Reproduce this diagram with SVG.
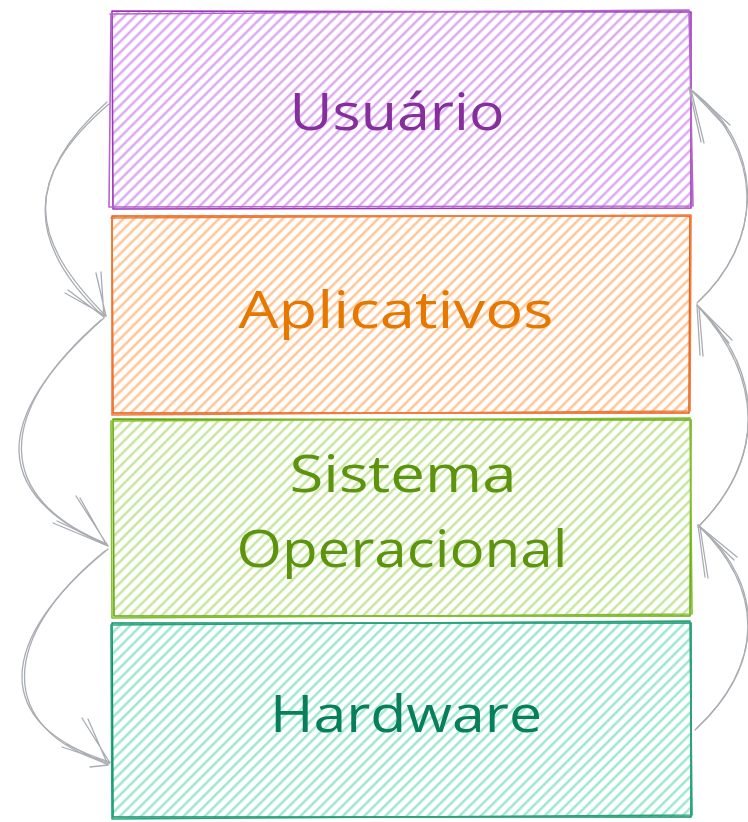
<svg xmlns="http://www.w3.org/2000/svg" width="748" height="822" viewBox="0 0 748 822">
<style>
.bd{fill:none;stroke-width:1.6;stroke-linecap:round;stroke-linejoin:round}
.lbl{font-family:"Open Sans","Liberation Sans",sans-serif;font-size:52px;font-weight:500;text-anchor:middle}
.ar{fill:none;stroke:#a9adb2;stroke-width:1.3;stroke-linecap:round;stroke-linejoin:round}
</style>
<defs>
<pattern id="hP" width="7.5" height="7.5" patternUnits="userSpaceOnUse" patternTransform="rotate(45)"><line x1="2" y1="0" x2="2" y2="7.5" stroke="#dcaaf0" stroke-width="2.5"/></pattern>
<pattern id="hO" width="7.5" height="7.5" patternUnits="userSpaceOnUse" patternTransform="rotate(45)"><line x1="2" y1="0" x2="2" y2="7.5" stroke="#ffc596" stroke-width="2.5"/></pattern>
<pattern id="hG" width="7.5" height="7.5" patternUnits="userSpaceOnUse" patternTransform="rotate(45)"><line x1="2" y1="0" x2="2" y2="7.5" stroke="#c6e6a0" stroke-width="2.5"/></pattern>
<pattern id="hT" width="7.5" height="7.5" patternUnits="userSpaceOnUse" patternTransform="rotate(45)"><line x1="2" y1="0" x2="2" y2="7.5" stroke="#9fe6cf" stroke-width="2.5"/></pattern>
</defs>
<rect width="748" height="822" fill="#ffffff"/>

<g id="usuario">
<rect x="112" y="11" width="579" height="197" fill="url(#hP)"/>
<path class="bd" stroke="#9c36b5" d="M112,11 L691,12 L691,208 L113,209 Z"/>
<path class="bd" stroke="#b565d0" stroke-width="1.1" d="M110,14 L689,10 L693,206 L109,207 L111,14"/>
<text class="lbl" x="397" y="130" fill="#862e9c" textLength="215" lengthAdjust="spacingAndGlyphs">Usuário</text>
</g>

<g id="aplicativos">
<rect x="112" y="216" width="578" height="197" fill="url(#hO)"/>
<path class="bd" stroke="#e8590c" d="M112,216 L690,216 L689,413 L113,413 Z"/>
<path class="bd" stroke="#f07d3c" stroke-width="1.1" d="M111,218 L691,215 L690,411 L112,415 L112,218"/>
<text class="lbl" x="396" y="328" fill="#e67700" textLength="315" lengthAdjust="spacingAndGlyphs">Aplicativos</text>
</g>

<g id="sistema-operacional">
<rect x="113" y="419" width="578" height="197" fill="url(#hG)"/>
<path class="bd" stroke="#66a80f" d="M113,419 L691,420 L690,616 L114,616 Z"/>
<path class="bd" stroke="#82c02a" stroke-width="1.1" d="M111,421 L690,418 L692,614 L112,618 L111,421"/>
<text class="lbl" fill="#5c940d"><tspan x="403" y="492" textLength="227" lengthAdjust="spacingAndGlyphs">Sistema</tspan><tspan x="402" y="567" textLength="331" lengthAdjust="spacingAndGlyphs">Operacional</tspan></text>
</g>

<g id="hardware">
<rect x="112" y="623" width="579" height="194" fill="url(#hT)"/>
<path class="bd" stroke="#099268" d="M112,623 L691,623 L691,817 L113,817 Z"/>
<path class="bd" stroke="#2aa37c" stroke-width="1.1" d="M111,625 L690,621 L692,815 L112,819 L111,625"/>
<text class="lbl" x="406" y="732" fill="#087f5b" textLength="272" lengthAdjust="spacingAndGlyphs">Hardware</text>
</g>

<g id="connectors">
<path class="ar" d="M109,104 C20,180 30,240 106,316"/>
<path class="ar" d="M107,102 C24,176 26,244 104,317"/>
<path class="ar" d="M65,293 L106,316 L96,273 M68,290 L104,317 L101,272"/>

<path class="ar" d="M104,318 C-12,420 -8,495 108,546"/>
<path class="ar" d="M101,320 C-8,416 -4,499 107,544"/>
<path class="ar" d="M53,523 L108,546 L76,496 M57,521 L106,544 L80,498"/>

<path class="ar" d="M108,549 C-4,640 -10,725 110,762"/>
<path class="ar" d="M105,551 C0,636 -6,729 109,764"/>
<path class="ar" d="M62,747 L110,763 L82,718 M66,744 L108,765 L88,719 M90,767 L108,765"/>

<path class="ar" d="M695,730 C765,665 765,590 698,525"/>
<path class="ar" d="M697,728 C761,668 769,588 700,527"/>
<path class="ar" d="M737,557 L698,525 L705,577 M734,560 L700,527 L708,578"/>

<path class="ar" d="M698,527 C765,460 765,380 697,305"/>
<path class="ar" d="M700,525 C761,463 769,378 699,307"/>
<path class="ar" d="M732,340 L697,305 L700,355 M729,343 L699,307 L703,356"/>

<path class="ar" d="M697,303 C765,240 765,150 689,88"/>
<path class="ar" d="M699,301 C761,243 769,148 691,90"/>
<path class="ar" d="M730,125 L689,88 L701,142 M727,128 L691,90 L704,143"/>
</g>
</svg>
